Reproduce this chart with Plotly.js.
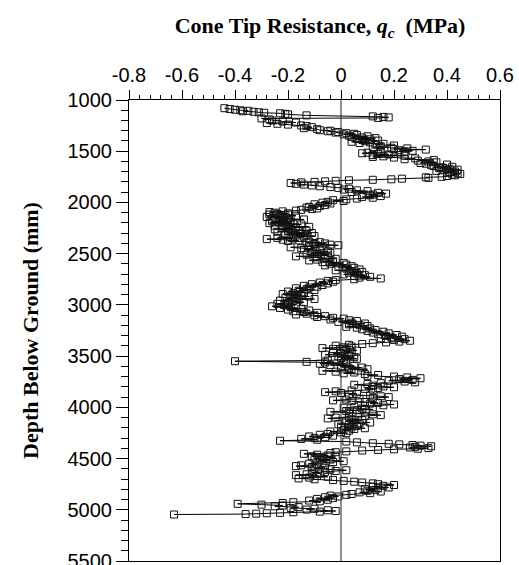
<!DOCTYPE html>
<html>
<head>
<meta charset="utf-8">
<script src="https://cdn.plot.ly/plotly-3.0.1.min.js"></script>
<style>html,body{margin:0;padding:0;background:#fff;}#chart{width:519px;height:565px;}</style>
</head>
<body>
<div id="chart"></div>
<script>
// Depth below ground (mm) and cone tip resistance qc (MPa), top to bottom
var depthA = [1080,1088,1095,1100,1105,1110,1115,1120,1125,1130,
1135,1140,1150,1160,1165,1170,1175,1180,1190,1200,
1210,1220,1225,1232,1240,1248,1255,1265,1275,1285,
1295,1300,1305];
var qcA = [-0.44,-0.42,-0.40,-0.38,-0.35,-0.37,-0.33,-0.31,-0.29,-0.23,
-0.21,-0.20,-0.13,0.12,0.16,0.18,0.14,-0.30,-0.27,-0.26,
-0.22,-0.17,-0.28,-0.24,-0.20,-0.15,-0.13,-0.11,-0.14,-0.09,
-0.08,-0.04,-0.05];

var depthB = [1312,1318,1324,1330,1336,1342,1348,1354,1360,1366,
1372,1378,1384,1390,1396,1402,1408,1414,1420,1428,
1436,1444,1452,1460,1466,1472,1478,1484,1490,1496,
1502,1508,1514,1520,1526,1532,1538,1544,1550,1556,
1562,1570,1578,1585,1592,1600,1608,1615,1622,1630,
1637,1645,1652,1658,1665,1672,1680,1686,1692,1698,
1704,1710,1716,1722,1728,1735,1742,1750,1755,1760];
var qcB = [-0.01,-0.02,0.02,0.05,0.01,0.06,0.03,0.10,0.04,0.08,
0.13,0.06,0.11,0.08,0.14,0.09,0.04,0.11,0.07,0.16,
0.13,0.20,0.15,0.12,0.19,0.25,0.20,0.32,0.22,0.27,
0.24,0.15,0.10,0.08,0.14,0.18,0.12,0.24,0.16,0.12,
0.20,0.28,0.24,0.35,0.29,0.33,0.36,0.30,0.32,0.40,
0.34,0.35,0.42,0.38,0.37,0.41,0.44,0.39,0.36,0.43,
0.41,0.40,0.44,0.45,0.42,0.43,0.40,0.38,0.32,0.33];

var depthC = [1768,1774,1779,1784,1789,1794,1799,1804,1810,1818,
1826,1834,1842,1850,1858,1866,1874,1882,1890,1898,
1906,1914,1922,1930,1938,1946,1954,1962,1970,1978,
1986,1994,2002,2010,2018,2026,2035,2043,2050,2058,
2065,2072,2080,2087,2094];
var qcC = [0.23,0.19,0.12,0.03,-0.02,-0.06,-0.10,-0.15,-0.19,-0.17,
-0.14,-0.11,-0.08,-0.04,-0.01,0.03,0.01,0.06,0.10,0.04,
0.14,0.17,0.12,0.11,0.15,0.08,0.12,0.06,0.02,-0.03,
0.01,-0.05,-0.07,-0.04,-0.10,-0.06,-0.08,-0.12,-0.13,-0.09,
-0.11,-0.15,-0.17,-0.22,-0.27];

var depthD = [2100,2106,2112,2118,2124,2130,2136,2142,2148,2154,
2160,2166,2172,2178,2184,2190,2196,2202,2208,2214,
2220,2226,2232,2238,2244,2250,2256,2262,2268,2274,
2280,2286,2292,2298,2304,2310,2316,2322,2328,2334,
2340,2346,2352,2358,2364,2370,2376,2382,2388,2394,
2400,2406,2412,2418,2424,2430];
var qcD = [-0.25,-0.20,-0.24,-0.27,-0.21,-0.17,-0.23,-0.28,-0.22,-0.19,
-0.25,-0.14,-0.20,-0.24,-0.26,-0.19,-0.22,-0.27,-0.18,-0.15,
-0.21,-0.25,-0.20,-0.12,-0.17,-0.22,-0.19,-0.25,-0.16,-0.13,
-0.20,-0.24,-0.18,-0.11,-0.15,-0.21,-0.13,-0.17,-0.10,-0.14,
-0.19,-0.24,-0.18,-0.28,-0.22,-0.16,-0.20,-0.12,-0.08,-0.13,
-0.06,-0.10,-0.04,-0.01,-0.07,-0.12];

var depthE = [2438,2446,2454,2462,2470,2478,2486,2494,2502,2510,
2518,2526,2534,2542,2550,2558,2566,2574,2582,2590,
2598,2606,2614,2622,2630,2638,2646,2654,2662,2670,
2678,2686,2694,2702,2710,2718,2726,2734,2742,2750,
2758,2766];
var qcE = [-0.19,-0.15,-0.10,-0.14,-0.08,-0.05,-0.11,-0.04,-0.09,-0.13,
-0.05,-0.17,-0.10,-0.06,-0.02,-0.09,-0.12,-0.03,-0.07,0.01,
-0.04,0.02,-0.06,0.04,-0.01,0.05,0.02,0.07,-0.02,0.04,
0.08,0.03,0.06,0.01,0.09,0.05,0.11,0.07,0.15,0.05,
-0.02,-0.05];

var depthF = [2774,2782,2790,2798,2806,2814,2822,2830,2838,2846,
2854,2862,2870,2878,2886,2894,2902,2910,2918,2926,
2934,2942,2950,2958,2966,2974,2982,2990,2998,3006,
3014,3022,3030,3038,3046,3054,3062,3070,3078,3086,
3094,3102];
var qcF = [-0.03,-0.08,-0.05,-0.11,-0.07,-0.14,-0.09,-0.12,-0.17,-0.13,
-0.10,-0.16,-0.20,-0.14,-0.18,-0.22,-0.15,-0.19,-0.12,-0.17,
-0.21,-0.10,-0.16,-0.23,-0.18,-0.14,-0.20,-0.24,-0.17,-0.21,
-0.26,-0.19,-0.23,-0.15,-0.20,-0.12,-0.18,-0.14,-0.09,-0.13,
-0.17,-0.10];

var depthG = [3110,3118,3126,3134,3142,3150,3158,3166,3174,3182,
3190,3198,3206,3214,3222,3230,3238,3246,3254,3262,
3270,3278,3286,3294,3302,3310,3318,3326,3334,3342,
3350,3358,3366,3374,3382,3390,3398,3406,3414,3422,
3430,3438,3446,3454,3462,3470,3478,3486,3494,3502,
3510,3518,3526,3534,3542];
var qcG = [-0.06,-0.09,-0.03,0.01,-0.04,0.03,0.06,-0.01,0.04,0.09,
0.03,0.07,0.10,0.02,0.06,0.11,0.08,0.13,0.10,0.16,
0.12,0.18,0.14,0.21,0.17,0.23,0.19,0.15,0.24,0.20,
0.26,0.22,0.17,0.12,0.08,0.03,-0.02,0.04,0.01,-0.07,
-0.03,0.02,0.06,0.01,0.04,-0.03,0.00,-0.06,0.03,-0.01,
0.05,0.00,0.06,0.02,-0.05];

var depthH = [3550,3556,3562,3568,3574,3580,3588,3596,3604,3612,
3620,3628,3636,3644,3652,3660,3668,3676,3684,3692,
3700,3708,3716,3724,3732,3740,3748,3756,3764,3772,
3780,3788,3796,3804,3812,3820,3828,3836];
var qcH = [-0.40,-0.13,-0.06,0.01,-0.08,0.02,-0.04,0.05,0.00,0.08,
0.03,0.10,0.04,-0.07,-0.02,0.05,0.01,0.09,0.14,0.10,
0.20,0.25,0.30,0.22,0.27,0.18,0.24,0.28,0.15,0.10,
0.05,0.12,0.16,0.20,0.14,0.09,0.12,0.04];

var depthI = [3844,3852,3860,3868,3876,3884,3892,3900,3908,3916,
3924,3932,3940,3948,3956,3964,3972,3980,3988,3996,
4004,4012,4020,4028,4036,4044,4052,4060,4068,4076,
4084,4092,4100,4108,4116,4124,4132,4140,4148,4156,
4164,4172,4180,4188,4196,4204,4212,4220,4228,4236,
4244,4252,4260,4268,4276,4284,4292,4300,4308,4316];
var qcI = [-0.02,-0.06,0.00,0.06,0.03,0.11,0.15,0.18,0.12,0.07,
0.02,-0.03,0.04,0.09,0.14,0.11,0.20,0.16,0.09,0.05,
0.01,0.08,0.12,0.06,0.02,-0.04,0.03,0.07,0.12,0.15,
0.09,0.03,-0.02,-0.05,0.04,0.08,0.02,0.05,0.11,0.07,
-0.01,0.03,0.06,0.00,0.04,0.09,0.05,0.01,0.03,-0.04,
0.00,0.02,-0.05,-0.08,-0.03,-0.12,-0.06,-0.10,-0.15,-0.09];

var depthJ = [4326,4334,4342,4350,4356,4362,4368,4374,4380,4386,
4392,4398,4404,4410,4416,4422,4430,4438];
var qcJ = [-0.23,0.02,0.06,0.12,0.18,0.22,0.27,0.30,0.34,0.28,
0.26,0.33,0.29,0.20,0.14,0.08,0.02,-0.02];

var depthK = [4446,4454,4462,4470,4478,4486,4494,4502,4510,4518,
4526,4534,4542,4550,4558,4566,4574,4582,4590,4598,
4606,4614,4622,4630,4638,4646,4654,4662,4670,4678,
4686,4694,4702,4710];
var qcK = [-0.04,-0.14,-0.09,-0.05,-0.11,-0.02,-0.07,-0.10,-0.04,-0.08,
0.01,-0.03,-0.07,-0.12,-0.09,-0.15,-0.17,-0.11,-0.06,-0.10,
-0.04,0.02,-0.02,-0.06,-0.11,-0.08,-0.13,-0.17,-0.09,-0.05,
-0.12,-0.16,-0.10,-0.03];

var depthL = [4718,4726,4734,4742,4750,4758,4766,4774,4782,4790,
4798,4806,4814,4822,4830,4838,4846,4854];
var qcL = [0.01,0.05,0.08,0.12,0.14,0.20,0.16,0.12,0.18,0.14,
0.09,0.13,0.10,0.15,0.07,0.11,0.04,0.02];

var depthM = [4862,4870,4878,4886,4894,4902,4910,4918,4926,4934,
4942,4950,4958,4966,4974,4982,4990,4998,5005,5012,
5018,5024,5030,5034,5038,5042,5046];
var qcM = [-0.04,-0.01,-0.06,-0.03,-0.09,-0.05,-0.12,-0.08,-0.18,-0.22,
-0.39,-0.30,-0.22,-0.25,-0.16,-0.19,-0.10,-0.13,-0.05,-0.02,
-0.08,-0.18,-0.23,-0.28,-0.32,-0.36,-0.63];

var xTickVals = [-0.8,-0.6,-0.4,-0.2,0,0.2,0.4,0.6];
var xTickText = ['-0.8','-0.6','-0.4','-0.2','0','0.2','0.4','0.6'];
var yTickVals = [1000,1500,2000,2500,3000,3500,4000,4500,5000,5500];

var depth = depthA.concat(depthB, depthC, depthD, depthE, depthF, depthG, depthH, depthI, depthJ, depthK, depthL, depthM);
var qc = qcA.concat(qcB, qcC, qcD, qcE, qcF, qcG, qcH, qcI, qcJ, qcK, qcL, qcM);
var n = Math.min(depth.length, qc.length);

var trace = {
  x: qc.slice(0, n), y: depth.slice(0, n), type: 'scatter', mode: 'lines+markers',
  line: {color: '#000', width: 1},
  marker: {symbol: 'square-open', size: 7, color: '#111', line: {width: 1, color: '#111'}},
  hoverinfo: 'none', showlegend: false
};

var layout = {
  width: 519, height: 565,
  margin: {l: 129, r: 19, t: 100, b: 4},
  paper_bgcolor: '#fff', plot_bgcolor: '#fff',
  title: {
    text: 'Cone Tip Resistance, <i>q</i><sub><i>c</i></sub>  (MPa)',
    font: {family: 'Liberation Serif, Times New Roman, serif', size: 22, color: '#000', weight: 'bold'},
    xref: 'paper', x: 0.515, xanchor: 'center',
    yref: 'container', y: 0.955, yanchor: 'middle'
  },
  xaxis: {
    side: 'top', range: [-0.8, 0.6], tickvals: xTickVals, ticktext: xTickText,
    ticks: 'outside', ticklen: 9, tickwidth: 1, tickcolor: '#000',
    minor: {dtick: 0.04, ticks: 'outside', ticklen: 4, tickwidth: 1, tickcolor: '#000'},
    showline: true, linecolor: '#000', linewidth: 1, mirror: true,
    showgrid: false, zeroline: false,
    tickfont: {family: 'Liberation Sans, Arial, sans-serif', size: 20, color: '#000'}
  },
  yaxis: {
    range: [5500, 1000], tickvals: yTickVals, ticklabeloverflow: 'allow',
    ticks: 'outside', ticklen: 12, tickwidth: 1, tickcolor: '#000',
    minor: {dtick: 100, ticks: 'outside', ticklen: 7, tickwidth: 1, tickcolor: '#000'},
    showline: true, linecolor: '#000', linewidth: 1, mirror: true,
    showgrid: false, zeroline: false,
    tickfont: {family: 'Liberation Sans, Arial, sans-serif', size: 20, color: '#000'},
    title: {text: 'Depth Below Ground (mm)', standoff: 22,
      font: {family: 'Liberation Serif, Times New Roman, serif', size: 22, color: '#000', weight: 'bold'}}
  },
  shapes: [{type: 'line', xref: 'x', yref: 'paper', x0: 0, x1: 0, y0: 0, y1: 1,
    line: {color: '#222', width: 1}}]
};

Plotly.newPlot('chart', [trace], layout, {staticPlot: true, displayModeBar: false});
</script>
</body>
</html>
